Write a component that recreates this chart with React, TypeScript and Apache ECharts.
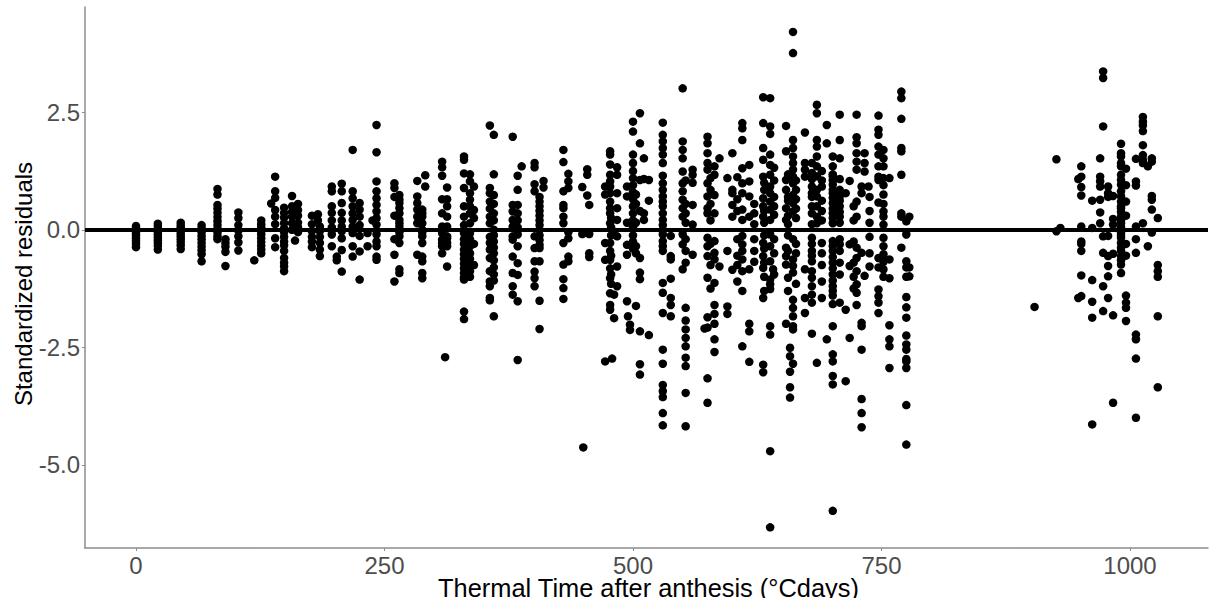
import React, { useEffect, useRef } from "react";
import * as echarts from "echarts";

const xTicks = [0, 250, 500, 750, 1000];
const yTicks = [-5, -2.5, 0, 2.5];

type Col = [number, number[]];

const earlyColumns: Col[] = [
  [0, [0.08, 0.03, -0.02, -0.07, -0.12, -0.18, -0.24, -0.3, -0.37]],
  [22, [0.13, 0.08, 0.02, -0.04, -0.1, -0.16, -0.22, -0.28, -0.34, -0.42]],
  [45, [0.15, 0.09, 0.04, -0.02, -0.08, -0.14, -0.2, -0.26, -0.33, -0.41]],
  [66, [0.1, 0.03, -0.05, -0.13, -0.2, -0.28, -0.36, -0.44, -0.52, -0.67]],
  [82, [0.87, 0.75, 0.53, 0.45, 0.36, 0.27, 0.18, 0.1, 0.02, -0.06, -0.14, -0.2]],
  [90, [-0.2, -0.28, -0.36, -0.47, -0.77]],
  [103, [0.37, 0.25, 0.1, -0.02, -0.14, -0.27, -0.44]],
  [119, [-0.65]],
  [126, [0.2, 0.12, 0.05, -0.03, -0.1, -0.18, -0.26, -0.34, -0.42, -0.5]],
  [136, [0.56]],
  [140, [1.13, 0.82, 0.68, 0.42, 0.28, 0.12, -0.18, -0.37]],
  [149, [0.47, 0.36, 0.26, 0.14, 0.03, -0.05, -0.15, -0.25, -0.33, -0.45, -0.6, -0.7, -0.78, -0.88]],
  [157, [0.72, 0.5, 0.38, 0.28, 0.14, 0]],
  [160, [-0.23]],
  [163, [0.55, 0.42, 0.3, 0.15, 0.05, -0.05]],
  [177, [0.3, 0.12, -0.03, -0.15, -0.25, -0.37]],
  [183, [0.33, 0.2]],
  [185, [0.07, -0.03, -0.15, -0.28, -0.42, -0.56]],
  [197, [0.92, 0.82, 0.5, 0.36, 0.2, 0.05, -0.1, -0.35]],
  [202, [-0.57, -0.65]],
  [207, [0.98, 0.82, 0.57, 0.36, 0.2, 0.07, -0.03, -0.18, -0.43, -0.89]],
  [218, [1.7, 0.82, 0.67, 0.5, 0.35, 0.21, 0.07, -0.07, -0.35, -0.57]],
  [225, [0.57, 0.43, 0.28, 0.1, -0.13, -0.46, -1.06]],
  [233, [-0.07, -0.35]],
  [238, [0.2]],
  [242, [2.23, 1.65, 1.03, 0.82, 0.67, 0.53, 0.39, 0.25, 0.11, -0.1, -0.25, -0.35, -0.57, -0.64]],
];

const midColumns: Col[] = [
  [260, [0.99, 0.89, 0.7, 0.3, -0.2, -0.53, -1.1]],
  [265, [0.74, 0.64, 0.57, 0.46, 0.35, 0.21, 0.14, 0.07, -0.05, -0.14, -0.28, -0.84, -0.92]],
  [283, [1.04, 0.71, 0.57, 0.43, 0.28, 0.14, -0.53]],
  [288, [0.43, 0.35, 0.28, 0.14, 0, -0.06, -0.14, -0.28, -0.57, -0.67, -0.92, -1.03]],
  [291, [1.16, 0.92]],
  [308, [1.45, 1.33, 1.15, 0.65, 0.35, 0.07, -0.07, -0.21, -0.28, -0.35, -0.5]],
  [311, [-2.71]],
  [313, [0.9, 0.65, 0.5, 0.28, 0.07, -0.14, -0.18, -0.28, -0.35, -0.78]],
  [330, [1.56, 1.49, 1.2, 0.89, 0.5, 0.28, 0.1, -0.07, -0.2, -0.3, -0.42, -0.52, -0.62, -0.72, -0.82, -0.92, -1.02, -1.06, -1.74, -1.9]],
  [336, [1.18, 1.03, 0.78, 0.64, 0.5, 0.35, 0.14, -0.07, -0.2, -0.35, -0.5, -0.62, -0.75, -0.88, -1.0]],
  [356, [2.22, 0.89, 0.78, 0.6, 0.45, 0.28, 0.14, -0.15, -0.28, -0.42, -0.6, -0.88, -1.1, -1.2, -1.45, -1.5]],
  [360, [2.02, 1.18, 0.74, 0.55, 0.35, 0.2, 0, -0.12, -0.25, -0.38, -0.5, -0.65, -0.8, -0.95, -1.08, -1.84]],
  [379, [1.98, 0.53, 0.39, 0.21, 0.07, -0.14, -0.21, -0.57, -0.92, -1.2, -1.38]],
  [384, [1.15, 0.85, 0.53, 0.35, 0.2, 0.05, -0.1, -0.35, -0.71, -0.96, -1.52, -2.77]],
  [388, [1.35]],
  [401, [1.42, 1.33, 0.97, 0.82, -0.14, -0.39, -0.67, -0.89, -1.03, -1.2]],
  [406, [0.7, 0.6, 0.5, 0.4, 0.3, 0.2, 0.1, 0, -0.12, -0.22, -0.32, -0.39, -0.67, -1.51, -2.11]],
  [410, [1.04, 0.9]],
  [430, [1.7, 1.44, 0.82, 0.53, 0.46, 0.28, 0.14, -0.28, -0.74, -1.05, -1.24, -1.47]],
  [435, [1.19, 1.03, 0.89, -0.05, -0.18, -0.57, -0.67]],
  [449, [0.91, -0.09]],
  [450, [-4.63]],
  [454, [1.29, 1.17, 0.73]],
  [456, [0.53, -0.09, -0.5, -0.58]],
  [472, [0.92, 0.75, -0.28, -0.64, -2.8]],
  [477, [1.67, 1.6, 1.39, 1.17, 1.03, 0.92, 0.78, 0.6, 0.46, 0.35, 0.14, -0.28, -0.45, -0.64, -0.82, -1.03, -1.35, -1.6, -1.7]],
  [479, [-2.74]],
  [481, [-0.1, -1.38, -1.88]],
  [484, [1.33, 1.17, 0.78, 0.46, 0.21, -0.14, -0.78, -1.2]],
  [494, [0.92, 0.71, 0.15, -0.32, -0.53, -1.52]],
  [495, [-1.84]],
  [497, [-2.02, -2.13]],
  [500, [2.3, 2.09, 1.6, 1.42, 1.25, 1.1, 0.95, 0.8, 0.65, 0.5, 0.35, 0.2, 0.05, -0.12, -0.25, -0.4]],
  [503, [-1.62]],
  [507, [2.48, 1.84, 1.06, 0.4, -0.6, -0.91, -1.05, -2.16, -2.86, -3.08]],
  [511, [1.52, 1.08, 0.35, 0.21]],
  [516, [1.06, 0.62, -2.24]],
];

const lateColumns: Col[] = [
  [530, [2.28, 2.02, 1.88, 1.74, 1.6, 1.42, 0.99, 0.85, 0.71, 0.5, 0.35, 0.21, -0.24, -0.45, -1.13, -1.34, -1.77, -2.55, -2.85, -3.3, -3.43, -3.56, -3.9, -4.16]],
  [538, [-0.13, -0.56, -0.63, -1.04, -1.45, -1.6, -1.84]],
  [550, [3.01, 1.88, 1.7, 1.52, 1.24, 0.99, 0.82, 0.64, 0.46, 0.28, -0.1, -0.31, -0.84]],
  [553, [-0.7, -1.66, -1.93, -2.12, -2.3, -2.48, -2.72, -2.9, -3.47, -4.18]],
  [560, [1.28, 1.17, 1.0, 0.53, 0.11, -0.53]],
  [572, [-2.1]],
  [575, [1.98, 1.84, 1.63, 1.42, 1.28, 0.99, 0.71, 0.46, 0.35, -0.17, -0.35, -0.56, -1.02, -1.86, -2.08, -3.16, -3.68]],
  [582, [1.35, 1.17, 0.74, 0.35, -0.24, -0.49, -0.63, -1.13, -1.6, -1.79, -2.0, -2.33, -2.6]],
  [587, [1.52, -0.78]],
  [595, [1.1, -0.45, -1.63, -1.79]],
  [600, [1.63, 0.85, 0.78, 0.53, 0.28, -0.85]],
  [610, [2.27, 2.16, 1.91, 1.31, 0.99, 0.78, 0.43, 0.21, -0.13, -0.31, -0.45, -0.63, -0.88, -1.3, -2.48]],
  [617, [1.38, 1.03, 0.71, 0.28, -0.84, -2.0, -2.16, -2.81]],
  [631, [2.82, 2.27, 1.74, 1.49, 1.13, 0.67, 0.5, 0.28, -0.28, -0.56, -0.81, -1.45, -2.87, -3.03]],
  [638, [2.8, 2.2, 2.04, 1.6, 1.38, 1.17, 0.92, 0.78, 0.6, 0.43, 0.21, -0.1, -0.35, -0.67, -1.06, -1.16, -1.26, -2.05, -2.23, -4.71, -6.33]],
  [641, [-0.84]],
  [654, [2.21, 1.67, 1.06, 0.85, 0.46, 0.21, -0.38, -0.56, -0.74, -2.0]],
  [661, [4.21, 3.76, 1.91, 1.74, 1.56, 1.42, 1.28, 1.13, 0.99, 0.74, 0.57, 0.39, -0.2, -0.63, -0.77, -0.91, -1.49, -1.66, -1.84, -2.05, -2.12, -2.85]],
  [658, [-2.51, -2.69, -3.02, -3.35, -3.57]],
  [673, [2.07, 1.42, 1.28, 1.13, -0.84, -1.45, -1.77]],
  [680, [1.42, 1.21, 0.78, 0.5, -0.17, -0.45, -0.67, -0.88, -1.02, -1.2, -1.38, -1.55, -2.21]],
  [685, [2.66, 2.48, 1.91, 1.77, 1.56, 1.35, 1.14, 0.85, 0.71, 0.5, 0.28, 0.14, -2.83]],
  [695, [2.23, 1.84, -2.33]],
  [701, [1.56, 1.35, 1.14, 0.96, 0.78, 0.57, 0.35, 0.14, -0.24, -0.45, -0.7, -0.95, -1.2, -1.4, -1.58, -2.05, -2.65, -2.8, -3.11, -3.29, -5.98]],
  [708, [2.45, 1.91, 1.52, 0.85, 0.71, 0.5, 0.28, -0.31, -1.55]],
  [714, [0.78, -1.7, -3.22]],
  [718, [1.04, -0.31, -0.77, -2.3]],
  [725, [2.45, 1.97, 1.84, 1.63, 1.45, 1.28, 0.6, 0.28, -0.38, -0.6, -0.88, -1.16, -1.34, -1.6]],
  [730, [0.92, 0.78, -0.49, -1.98, -2.05, -2.55, -3.6, -3.9, -4.2]],
  [733, [1.63, 1.42, 1.24, -0.98]],
  [737, [0.92]],
  [747, [2.43, 2.13, 2.02, 1.77, 1.6, 1.35, 1.13, 1.06, 0.58, -0.6, -0.8, -1.27, -1.41, -1.55, -1.77]],
  [752, [1.7, 1.52, 1.35, 1.1, 0.39, 0.28, 0.11, -0.17, -0.52, -0.84]],
  [758, [1.1, -0.63, -1.03, -2.03, -2.33, -2.48, -2.94]],
  [770, [2.94, 2.8, 2.36, 1.74, 1.67, 1.17, 0.35, 0.28, -0.38]],
  [775, [0.18, -0.1, -0.67, -0.8, -1.0, -1.43, -1.65, -1.87, -2.25, -2.44, -2.55, -2.75, -2.8, -2.94, -3.73, -4.57]],
  [778, [0.28, -0.8, -0.99]],
];

const rightColumns: Col[] = [
  [904, [-1.64]],
  [926, [1.5, -0.03]],
  [930, [0.04]],
  [951, [1.35, 1.13, 0.91, 0.73, 0.07, -0.25, -0.3, -0.45, -0.97, -1.41]],
  [948, [1.08, -1.45]],
  [962, [0.62, 0.04, -1.07, -1.53, -1.87, -4.14]],
  [970, [1.52, 1.13, 1.03, 0.92, 0.64, 0.37, 0.14]],
  [973, [3.37, 3.23, 2.2, -0.14, -0.49, -1.2, -1.73]],
  [978, [0.92, 0.78, 0.7, -0.13, -0.56, -0.77, -0.99, -1.45]],
  [983, [0.72, 0.23, 0.11, -0.51, -1.82, -3.68]],
  [991, [1.83, 1.63, 1.56, 1.42, 1.35, 1.17, 1.06, 0.96, 0.82, 0.71, 0.6, 0.46, 0.28, 0.14, -0.06, -0.17, -0.28, -0.38, -0.56, -0.74, -0.92]],
  [996, [1.3, 0.95, 0.6, 0.3, -0.3, -0.55, -1.4, -1.55, -1.66, -1.94]],
  [1006, [1.51, 1.03, 0.94, 0.07, -0.2, -0.49, -2.23, -2.33, -2.74, -4.0]],
  [1013, [2.4, 2.3, 2.22, 2.1, 1.8, 1.59, 1.49, 1.42, 0.14]],
  [1018, [1.35, -0.35]],
  [1022, [1.52, 1.45, 0.72, 0.64, 0.43, -0.06]],
  [1028, [0.25, -0.75, -0.88, -1.0, -1.84, -3.35]],
];

// Extra marks in the crowded central band.
const denseBand: Col[] = [
  [340, [0.92, 0.42, 0.25, -0.3, -0.75]],
  [478, [0.25, 0.05, -0.12, -0.55, -0.95, -1.15]],
  [503, [0.75, 0.55, 0.15, -0.35, -0.5]],
  [530, [1.15, 0.6, 0.1, -0.1, -0.35]],
  [553, [1.05, 0.55, 0.35, 0.15, -0.2, -0.45]],
  [578, [1.1, 0.85, 0.55, 0.2, -0.3, -0.75, -1.25]],
  [605, [1.12, 0.65, 0.4, -0.2, -0.55, -0.75, -1.1]],
  [622, [0.55, 0.35, 0.12, -0.2, -0.45, -0.68]],
  [632, [1.0, 0.85, 0.4, 0.15, -0.12, -0.4, -0.7, -1.0, -1.3]],
  [642, [1.32, 1.05, 0.7, 0.5, 0.32, -0.2, -0.5, -0.95]],
  [656, [1.18, 0.7, 0.62, 0.3, 0.12, -0.12, -0.45, -1.02, -1.3]],
  [664, [1.05, 0.85, 0.65, 0.45, 0.25, -0.3, -0.5, -1.15]],
  [680, [1.08, 0.92, 0.7, 0.35, 0.12, -0.3, -0.55]],
  [690, [1.25, 1.05, 0.92, 0.62, 0.4, 0.2, -0.28, -0.5, -0.75, -1.1, -1.45]],
  [701, [1.18, 1.05, 0.85, 0.68, 0.45, 0.25, -0.35, -0.58, -0.82, -1.08, -1.3]],
  [708, [1.08, 0.62, 0.38, 0.15, -0.2, -0.45, -0.7, -0.95]],
  [722, [0.5, 0.2, -0.25, -0.7, -1.0, -1.25]],
  [738, [0.7, 0.4, 0.15, -0.15, -0.5, -0.78]],
  [752, [0.95, 0.75, 0.55, -0.35, -0.68, -1.0]],
  [991, [0.5, 0.38, 0.2, 0.05, -0.12, -0.45, -0.65]],
];

const allColumns = [...earlyColumns, ...midColumns, ...lateColumns, ...rightColumns, ...denseBand];
const points = allColumns.flatMap(([x, ys]) => ys.map((y) => [x, y]));

const xTitle = "Thermal Time after anthesis (°Cdays)";
const yTitle = "Standardized residuals";

export default function App() {
  const ref = useRef<HTMLDivElement>(null);
  useEffect(() => {
    const chart = echarts.init(ref.current!, undefined, { renderer: "svg" });
    const axisBase = {
      axisLine: { show: true, onZero: false, lineStyle: { color: "#8c8c8c", width: 1.5 } },
      splitLine: { show: false },
      nameLocation: "middle" as const,
      nameMoveOverlap: false,
    };
    const labelBase = { color: "#4D4D4D", fontFamily: "Liberation Sans", fontSize: 24 };
    const tickBase = { show: true, length: 3, lineStyle: { color: "#8c8c8c", width: 1 } };
    const nameStyle = { color: "#000", fontFamily: "Liberation Sans" };
    chart.setOption({
      animation: false,
      backgroundColor: "#fff",
      grid: { left: 85, right: 2, top: 7, bottom: 58, outerBoundsMode: "none" },
      xAxis: {
        ...axisBase,
        type: "value",
        min: -51.3,
        max: 1078.5,
        name: xTitle,
        nameGap: 27,
        nameTextStyle: { ...nameStyle, fontSize: 25.4, padding: [0, 0, 0, 4] },
        axisTick: { ...tickBase, customValues: xTicks },
        axisLabel: { ...labelBase, margin: 5, customValues: xTicks, formatter: (v: number) => String(v) },
      },
      yAxis: {
        ...axisBase,
        type: "value",
        min: -6.77,
        max: 4.74,
        name: yTitle,
        nameGap: 50,
        nameTextStyle: { ...nameStyle, fontSize: 24, padding: [0, 13, 0, 0] },
        axisTick: { ...tickBase, customValues: yTicks },
        axisLabel: { ...labelBase, margin: 5, customValues: yTicks, formatter: (v: number) => v.toFixed(1) },
      },
      series: [
        {
          type: "scatter",
          data: points,
          symbol: "circle",
          symbolSize: 8.5,
          itemStyle: { color: "#000", opacity: 1 },
          markLine: {
            silent: true,
            symbol: "none",
            label: { show: false },
            lineStyle: { color: "#000", width: 4, type: "solid", opacity: 1 },
            data: [{ yAxis: 0 }],
          },
        },
      ],
      graphic: [
        { type: "rect", z: 100, shape: { x: 0, y: 598, width: 1210, height: 8 }, style: { fill: "#fff" } },
      ],
    });
    return () => chart.dispose();
  }, []);
  return <div ref={ref} style={{ position: "absolute", left: 0, top: 0, width: 1210, height: 606 }} />;
}
